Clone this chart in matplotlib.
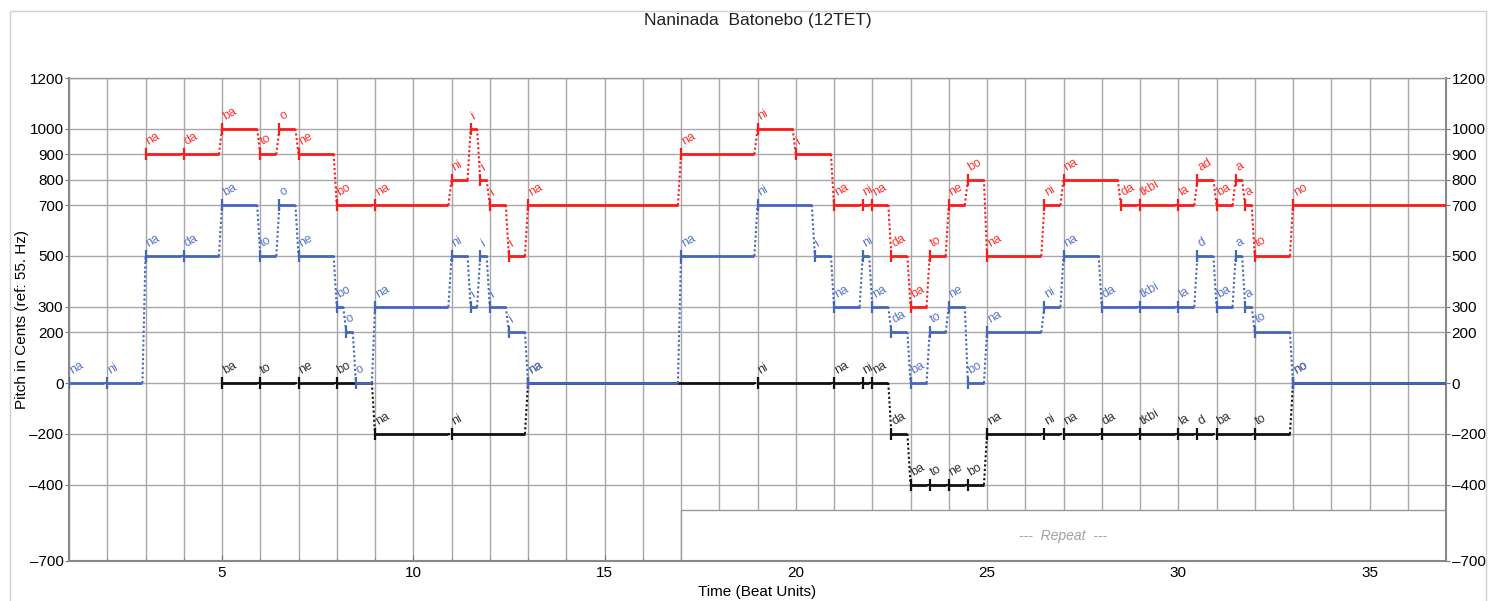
import matplotlib.pyplot as plt
from matplotlib.patches import Rectangle

plt.rcParams['font.family'] = ['Liberation Sans', 'DejaVu Sans']

# 각 성부의 음 시작 시점, 음높이(cent), 가사
red_onsets = [3, 4, 5, 6, 6.5, 7, 8, 9, 11, 11.5, 11.75, 12, 12.5, 13, 17, 19, 20, 21, 21.75, 22,
              22.5, 23, 23.5, 24, 24.5, 25, 26.5, 27, 28.5, 29, 30, 30.5, 31, 31.5, 31.75, 32, 33]
red_pitches = [900, 900, 1000, 900, 1000, 900, 700, 700, 800, 1000, 800, 700, 500, 700, 900, 1000, 900, 700, 700, 700,
               500, 300, 500, 700, 800, 500, 700, 800, 700, 700, 700, 800, 700, 800, 700, 500, 700]
red_syllables = ['na', 'da', 'ba', 'to', 'o', 'ne', 'bo', 'na', 'ni', 'i', 'i', 'i', 'i', 'na', 'na', 'ni', 'i', 'na', 'ni', 'na',
                 'da', 'ba', 'to', 'ne', 'bo', 'na', 'ni', 'na', 'da', 'tkbi', 'la', 'ad', 'ba', 'a', 'a', 'to', 'no']

blue_onsets = [1, 2, 3, 4, 5, 6, 6.5, 7, 8, 8.25, 8.5, 9, 11, 11.5, 11.75, 12, 12.5, 13, 17, 19, 20.5, 21, 21.75, 22,
               22.5, 23, 23.5, 24, 24.5, 25, 26.5, 27, 28, 29, 30, 30.5, 31, 31.5, 31.75, 32, 33]
blue_pitches = [0, 0, 500, 500, 700, 500, 700, 500, 300, 200, 0, 300, 500, 300, 500, 300, 200, 0, 500, 700, 500, 300, 500, 300,
                200, 0, 200, 300, 0, 200, 300, 500, 300, 300, 300, 500, 300, 500, 300, 200, 0]
blue_syllables = ['na', 'ni', 'na', 'da', 'ba', 'to', 'o', 'ne', 'bo', 'o', 'o', 'na', 'ni', 'i', 'i', 'i', 'i', 'na', 'na', 'ni', 'i', 'na', 'ni', 'na',
                  'da', 'ba', 'to', 'ne', 'bo', 'na', 'ni', 'na', 'da', 'tkbi', 'la', 'd', 'ba', 'a', 'a', 'to', 'no']

black_onsets = [5, 6, 7, 8, 9, 11, 13, 19, 21, 21.75, 22, 22.5, 23, 23.5, 24, 24.5, 25, 26.5, 27, 28, 29, 30, 30.5, 31, 32, 33]
black_pitches = [0, 0, 0, 0, -200, -200, 0, 0, 0, 0, 0, -200, -400, -400, -400, -400, -200, -200, -200, -200, -200, -200, -200, -200, -200, 0]
black_syllables = ['ba', 'to', 'ne', 'bo', 'na', 'ni', 'na', 'ni', 'na', 'ni', 'na', 'da', 'ba', 'to', 'ne', 'bo',
                   'na', 'ni', 'na', 'da', 'tkbi', 'la', 'd', 'ba', 'to', 'no']

song_end = 37
y_ticks = [1200, 1000, 900, 800, 700, 500, 300, 200, 0, -200, -400, -700]

fig = plt.figure(figsize=(14.89, 6.01), dpi=100)
ax = fig.add_axes([69/1489, 40/601, (1446-69)/1489, (561-78)/601])

# 그림 테두리
fig.patches.append(Rectangle((10/1489, -0.05), 1476/1489, 1.05 - 11/601, transform=fig.transFigure,
                             fill=False, edgecolor='#d0d0d0', lw=1))


def draw_voice(onsets, pitches, syllables, color, text_color, z):
    ends = onsets[1:] + [song_end]
    gap = 0.08
    for i in range(len(onsets)):
        x0, x1, y = onsets[i], ends[i], pitches[i]
        x1d = x1 - gap if i < len(onsets) - 1 else x1
        ax.plot([x0, x1d], [y, y], color=color, lw=2, zorder=z, solid_capstyle='butt')
        ax.plot([x0], [y], marker='|', color=color, ms=8, mew=1.6, zorder=z)
        if i < len(onsets) - 1:
            ax.plot([x1d, onsets[i + 1]], [y, pitches[i + 1]], color=color, lw=1.5,
                    ls=(0, (1, 1.2)), zorder=z)
        ax.annotate(syllables[i], (x0, y), xytext=(3, 4.5), textcoords='offset points',
                    rotation=30, fontsize=9, color=text_color, ha='left', va='bottom',
                    rotation_mode='anchor', zorder=z + 0.5)


draw_voice(black_onsets, black_pitches, black_syllables, '#111111', '#333333', 3)
draw_voice(blue_onsets, blue_pitches, blue_syllables, '#4466bb', '#5a78c8', 4)
draw_voice(red_onsets, red_pitches, red_syllables, '#ff1a1a', '#ff3333', 5)

# 반복 구간 상자
ax.add_patch(Rectangle((17, -700), 20, 200, facecolor='white', edgecolor='#9a9a9a', lw=1, zorder=1.5))
ax.text(27, -600, '---  Repeat  ---', ha='center', va='center', fontsize=10, style='italic',
        color='#a0a0a0', zorder=2)

ax.set_xlim(1, 37)
ax.set_ylim(-700, 1200)
ax.set_yticks(y_ticks)
ax.set_yticklabels(['\u2013' + str(-v) if v < 0 else str(v) for v in y_ticks])
ax.set_xticks([5, 10, 15, 20, 25, 30, 35])
ax.set_xticks(range(1, 38), minor=True)
ax.grid(True, which='both', color='#a8a8a8', lw=1)
ax.set_axisbelow(True)
ax.tick_params(axis='y', which='both', right=True, labelright=True, length=3, labelsize=11, pad=1, color='#777777')
ax.tick_params(axis='x', which='major', direction='in', length=4, labelsize=11, color='#777777')
ax.tick_params(axis='x', which='minor', direction='in', length=2, color='#777777')
for s in ax.spines.values():
    s.set_color('#888888')
    s.set_linewidth(1.5)
ax.spines['top'].set_color('#999999')
ax.spines['top'].set_linewidth(1)

ax.set_title('Naninada  Batonebo (12TET)', fontsize=12.5, pad=38, color='#222222')
ax.set_xlabel('Time (Beat Units)', fontsize=11, labelpad=4)
ax.set_ylabel('Pitch in Cents (ref: 55. Hz)', fontsize=11, labelpad=0)

fig.savefig('out.png', dpi=100)
